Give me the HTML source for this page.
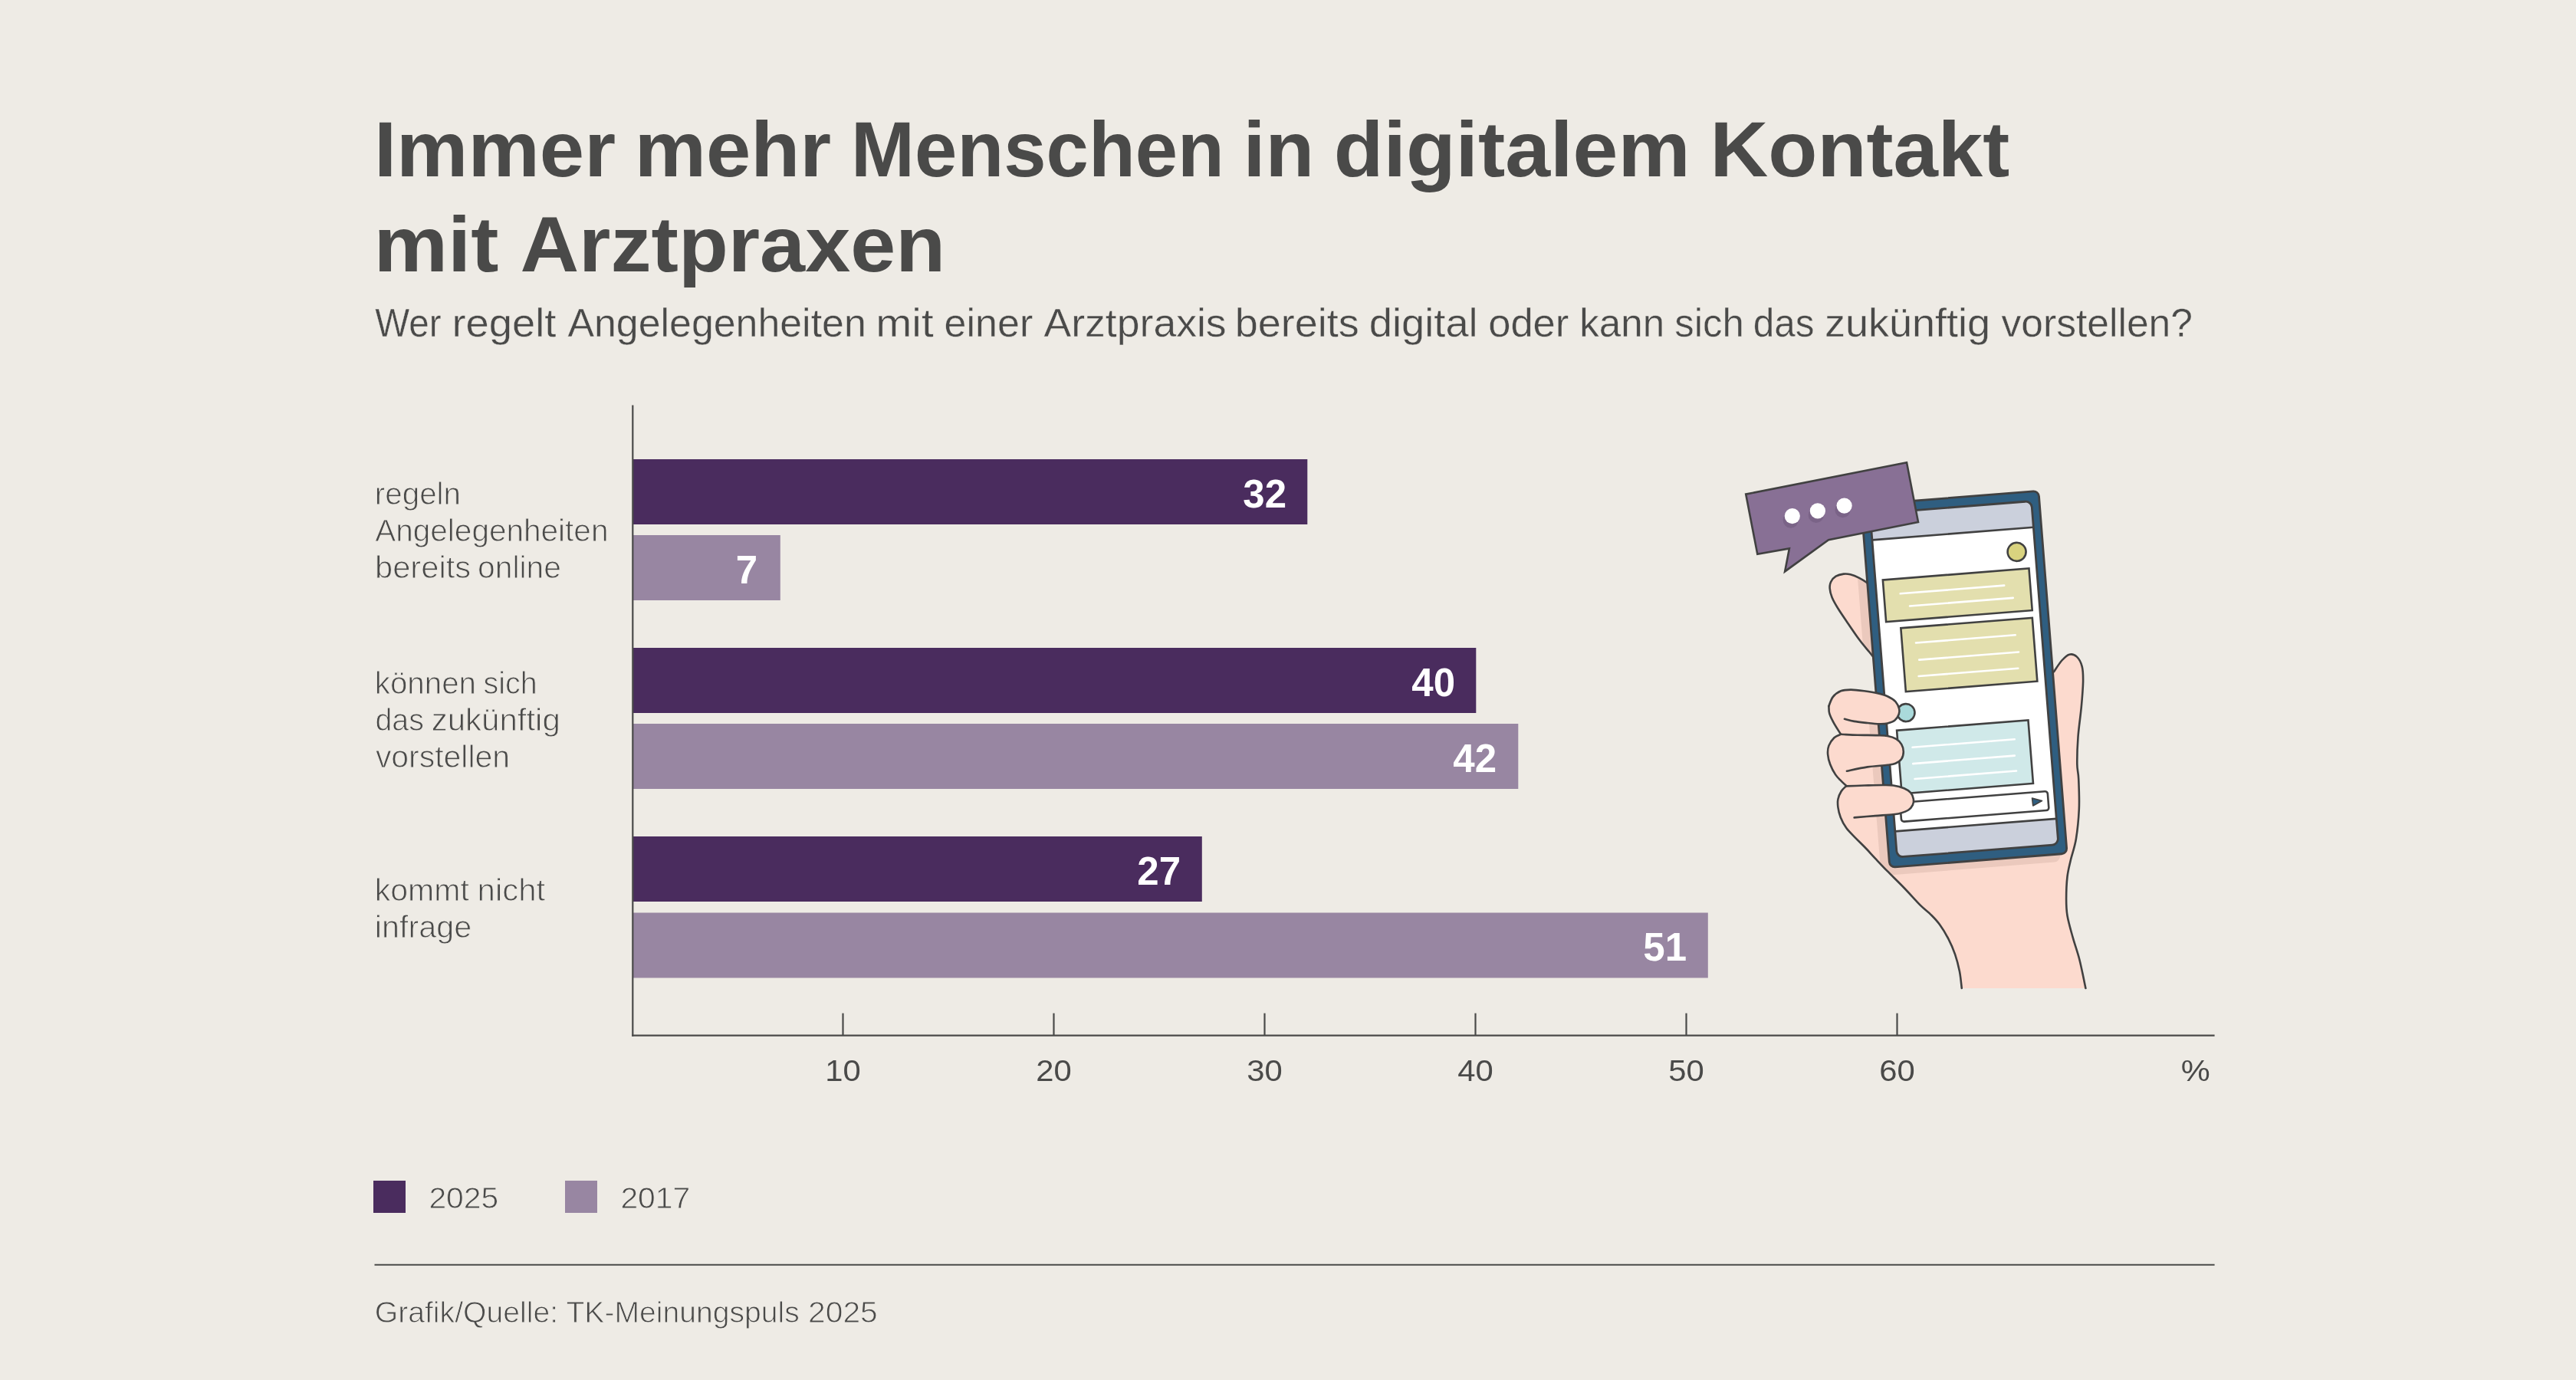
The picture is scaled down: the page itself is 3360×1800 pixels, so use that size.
<!DOCTYPE html>
<html lang="de">
<head>
<meta charset="utf-8">
<title>Immer mehr Menschen in digitalem Kontakt mit Arztpraxen</title>
<style>
html,body{margin:0;padding:0;background:#EEEBE5;}
body{width:3360px;height:1800px;overflow:hidden;}
svg{display:block;will-change:transform;}
text{font-family:"Liberation Sans",Arial,sans-serif;fill:#4A4A49;}
.t{font-weight:700;font-size:102px;}
.sub{font-size:52px;stroke:#EEEBE5;stroke-width:0.4px;}
.lab{font-size:40px;stroke:#EEEBE5;stroke-width:0.9px;}
.val{font-weight:700;font-size:51px;fill:#fff;text-anchor:end;}
.tick{font-size:38px;text-anchor:middle;}
.leg{font-size:39.5px;stroke:#EEEBE5;stroke-width:0.8px;}
.foot{font-size:39px;stroke:#EEEBE5;stroke-width:0.9px;}
.ol{fill:none;stroke:#414141;stroke-width:2.6;stroke-linecap:round;stroke-linejoin:round;}
</style>
</head>
<body>
<svg width="3360" height="1800" viewBox="0 0 3360 1800">
<rect width="3360" height="1800" fill="#EEEBE5"/>

<!-- Title -->
<text class="t" y="229.6"><tspan x="487.90" textLength="315.16" lengthAdjust="spacingAndGlyphs">Immer</tspan> <tspan x="827.70" textLength="256.42" lengthAdjust="spacingAndGlyphs">mehr</tspan> <tspan x="1110.10" textLength="486.80" lengthAdjust="spacingAndGlyphs">Menschen</tspan> <tspan x="1621.60" textLength="92.66" lengthAdjust="spacingAndGlyphs">in</tspan> <tspan x="1739.80" textLength="464.75" lengthAdjust="spacingAndGlyphs">digitalem</tspan> <tspan x="2230.50" textLength="390.67" lengthAdjust="spacingAndGlyphs">Kontakt</tspan></text>
<text class="t" y="353.7"><tspan x="487.40" textLength="163.00" lengthAdjust="spacingAndGlyphs">mit</tspan> <tspan x="678.40" textLength="554.81" lengthAdjust="spacingAndGlyphs">Arztpraxen</tspan></text>
<text class="sub" y="439.0"><tspan x="489.30" textLength="86.39" lengthAdjust="spacingAndGlyphs">Wer</tspan> <tspan x="589.40" textLength="136.08" lengthAdjust="spacingAndGlyphs">regelt</tspan> <tspan x="740.40" textLength="389.36" lengthAdjust="spacingAndGlyphs">Angelegenheiten</tspan> <tspan x="1142.30" textLength="75.33" lengthAdjust="spacingAndGlyphs">mit</tspan> <tspan x="1231.60" textLength="115.64" lengthAdjust="spacingAndGlyphs">einer</tspan> <tspan x="1361.50" textLength="238.16" lengthAdjust="spacingAndGlyphs">Arztpraxis</tspan> <tspan x="1610.70" textLength="162.08" lengthAdjust="spacingAndGlyphs">bereits</tspan> <tspan x="1785.80" textLength="141.88" lengthAdjust="spacingAndGlyphs">digital</tspan> <tspan x="1941.20" textLength="105.08" lengthAdjust="spacingAndGlyphs">oder</tspan> <tspan x="2060.30" textLength="110.77" lengthAdjust="spacingAndGlyphs">kann</tspan> <tspan x="2184.30" textLength="90.48" lengthAdjust="spacingAndGlyphs">sich</tspan> <tspan x="2286.80" textLength="79.84" lengthAdjust="spacingAndGlyphs">das</tspan> <tspan x="2379.90" textLength="216.14" lengthAdjust="spacingAndGlyphs">zukünftig</tspan> <tspan x="2610.50" textLength="249.47" lengthAdjust="spacingAndGlyphs">vorstellen?</tspan></text>
<!-- Category labels -->
<text class="lab" y="657.9"><tspan x="488.80" textLength="112.20" lengthAdjust="spacingAndGlyphs">regeln</tspan></text>
<text class="lab" y="705.7"><tspan x="489.20" textLength="304.28" lengthAdjust="spacingAndGlyphs">Angelegenheiten</tspan></text>
<text class="lab" y="753.8"><tspan x="489.00" textLength="125.06" lengthAdjust="spacingAndGlyphs">bereits</tspan> <tspan x="623.10" textLength="108.77" lengthAdjust="spacingAndGlyphs">online</tspan></text>
<text class="lab" y="905.0"><tspan x="488.80" textLength="132.23" lengthAdjust="spacingAndGlyphs">können</tspan> <tspan x="630.50" textLength="70.14" lengthAdjust="spacingAndGlyphs">sich</tspan></text>
<text class="lab" y="953.0"><tspan x="489.40" textLength="63.50" lengthAdjust="spacingAndGlyphs">das</tspan> <tspan x="562.70" textLength="168.11" lengthAdjust="spacingAndGlyphs">zukünftig</tspan></text>
<text class="lab" y="1001.0"><tspan x="489.90" textLength="175.20" lengthAdjust="spacingAndGlyphs">vorstellen</tspan></text>
<text class="lab" y="1175.0"><tspan x="488.80" textLength="123.00" lengthAdjust="spacingAndGlyphs">kommt</tspan> <tspan x="622.60" textLength="88.50" lengthAdjust="spacingAndGlyphs">nicht</tspan></text>
<text class="lab" y="1223.2"><tspan x="488.80" textLength="126.31" lengthAdjust="spacingAndGlyphs">infrage</tspan></text>
<!-- Bars -->
<g>
<rect x="826" y="599" width="879.3" height="85" fill="#4A2C5E"/>
<rect x="826" y="698" width="191.8" height="85" fill="#9886A2"/>
<rect x="826" y="845" width="1099.3" height="85" fill="#4A2C5E"/>
<rect x="826" y="944" width="1154.3" height="85" fill="#9886A2"/>
<rect x="826" y="1091" width="741.8" height="85" fill="#4A2C5E"/>
<rect x="826" y="1190.5" width="1401.8" height="85" fill="#9886A2"/>
</g>
<text class="val" x="1678" y="661.6">32</text>
<text class="val" x="988" y="760.5">7</text>
<text class="val" x="1898" y="907.5">40</text>
<text class="val" x="1952" y="1006.5">42</text>
<text class="val" x="1540" y="1153.5">27</text>
<text class="val" x="2200" y="1253">51</text>

<!-- Axes -->
<g stroke="#4A4A49" stroke-width="2.2" fill="none">
<line x1="825.3" y1="528.6" x2="825.3" y2="1351.8"/>
<line x1="824.2" y1="1350.7" x2="2888.6" y2="1350.7"/>
<line x1="1099.5" y1="1321.6" x2="1099.5" y2="1350"/>
<line x1="1374.5" y1="1321.6" x2="1374.5" y2="1350"/>
<line x1="1649.5" y1="1321.6" x2="1649.5" y2="1350"/>
<line x1="1924.5" y1="1321.6" x2="1924.5" y2="1350"/>
<line x1="2199.5" y1="1321.6" x2="2199.5" y2="1350"/>
<line x1="2474.5" y1="1321.6" x2="2474.5" y2="1350"/>
</g>
<text class="tick" x="1099.5" y="1410.4" textLength="46.5" lengthAdjust="spacingAndGlyphs">10</text>
<text class="tick" x="1374.5" y="1410.4" textLength="46.5" lengthAdjust="spacingAndGlyphs">20</text>
<text class="tick" x="1649.5" y="1410.4" textLength="46.5" lengthAdjust="spacingAndGlyphs">30</text>
<text class="tick" x="1924.5" y="1410.4" textLength="46.5" lengthAdjust="spacingAndGlyphs">40</text>
<text class="tick" x="2199.5" y="1410.4" textLength="46.5" lengthAdjust="spacingAndGlyphs">50</text>
<text class="tick" x="2474.5" y="1410.4" textLength="46.5" lengthAdjust="spacingAndGlyphs">60</text>
<text class="tick" x="2863.8" y="1410.2" textLength="38" lengthAdjust="spacingAndGlyphs">%</text>

<!-- ILLUSTRATION -->
<g id="illu">
<defs>
<clipPath id="handclip"><path d="M2437.5 761.5 C2435.4 760.2 2429.1 755.9 2425.1 753.9 C2421.1 751.9 2416.9 750.2 2413.5 749.3 C2410.1 748.4 2408.0 748.2 2404.8 748.6 C2401.7 749.0 2397.4 750.0 2394.6 751.7 C2391.8 753.4 2389.4 756.3 2388.1 759.0 C2386.8 761.7 2386.4 764.3 2386.7 767.7 C2386.9 771.1 2387.8 774.9 2389.6 779.3 C2391.4 783.6 2394.2 788.5 2397.5 793.8 C2400.8 799.1 2404.5 804.5 2409.1 811.2 C2413.7 818.0 2420.3 827.8 2425.1 834.3 C2429.9 840.8 2435.0 846.5 2438.1 850.3 C2441.2 854.1 2442.6 855.9 2443.5 857.0 L2490.0 860.0 L2490.0 905.0 L2447.0 906.0 L2405.0 903.5 C2403.2 904.2 2396.9 906.1 2394.0 908.0 C2391.1 909.9 2388.9 912.8 2387.5 915.0 C2386.1 917.2 2385.6 918.4 2385.4 921.0 C2385.2 923.6 2385.1 927.1 2386.3 930.9 C2387.5 934.7 2389.9 939.4 2392.4 943.9 C2394.9 948.4 2399.7 955.5 2401.1 957.8 C2399.7 958.5 2395.0 959.7 2392.4 962.2 C2389.8 964.7 2386.8 969.0 2385.4 972.6 C2384.0 976.2 2383.8 979.8 2384.1 983.9 C2384.4 988.0 2385.5 992.6 2387.2 997.0 C2388.9 1001.4 2391.7 1006.8 2394.1 1010.4 C2396.5 1014.0 2399.3 1016.4 2401.7 1018.8 C2404.1 1021.2 2407.2 1024.0 2408.3 1025.0 C2407.2 1026.2 2403.5 1029.1 2401.7 1032.0 C2399.9 1034.9 2398.1 1038.9 2397.4 1042.4 C2396.7 1045.9 2396.9 1048.9 2397.4 1052.8 C2397.9 1056.7 2398.9 1061.4 2400.7 1065.9 C2402.5 1070.5 2405.2 1075.7 2408.3 1080.1 C2411.5 1084.5 2415.5 1088.1 2419.6 1092.3 C2423.7 1096.5 2428.4 1101.0 2432.8 1105.5 C2437.2 1110.0 2441.1 1114.5 2445.9 1119.6 C2450.7 1124.7 2455.4 1129.8 2461.7 1136.2 C2468.0 1142.6 2476.2 1150.5 2483.5 1158.0 C2490.8 1165.5 2499.4 1175.4 2505.2 1181.2 C2511.0 1187.0 2514.2 1188.7 2518.3 1192.8 C2522.4 1196.9 2526.1 1200.5 2529.9 1205.8 C2533.8 1211.1 2538.0 1218.1 2541.4 1224.6 C2544.8 1231.1 2547.7 1237.9 2550.1 1244.9 C2552.5 1251.9 2554.4 1259.4 2555.9 1266.7 C2557.4 1274.0 2558.3 1285.3 2558.8 1289.0 L2720.4 1289.0 C2719.1 1282.9 2715.3 1263.2 2712.5 1252.2 C2709.7 1241.2 2706.5 1232.9 2703.8 1223.2 C2701.1 1213.5 2697.9 1202.7 2696.5 1194.2 C2695.1 1185.8 2695.1 1181.0 2695.1 1172.5 C2695.1 1164.0 2695.5 1152.0 2696.5 1143.5 C2697.5 1135.0 2699.0 1129.9 2700.9 1121.7 C2702.8 1113.5 2706.1 1105.4 2707.9 1094.3 C2709.7 1083.2 2711.2 1068.2 2711.8 1055.2 C2712.4 1042.2 2711.6 1025.8 2711.2 1016.0 C2710.8 1006.2 2709.4 1005.6 2709.3 996.5 C2709.2 987.4 2709.6 973.7 2710.5 961.3 C2711.4 948.9 2713.7 934.3 2714.8 922.2 C2715.9 910.1 2716.9 897.7 2717.1 888.9 C2717.2 880.1 2717.1 874.7 2715.7 869.3 C2714.3 863.9 2711.7 859.2 2708.9 856.6 C2706.1 854.0 2702.4 852.9 2699.1 853.7 C2695.8 854.5 2692.7 857.8 2689.3 861.5 C2686.0 865.2 2680.7 873.8 2679.0 876.2 L2650.0 870.0 L2480.0 770.0 Z"/></clipPath>
</defs>
<path d="M2437.5 761.5 C2435.4 760.2 2429.1 755.9 2425.1 753.9 C2421.1 751.9 2416.9 750.2 2413.5 749.3 C2410.1 748.4 2408.0 748.2 2404.8 748.6 C2401.7 749.0 2397.4 750.0 2394.6 751.7 C2391.8 753.4 2389.4 756.3 2388.1 759.0 C2386.8 761.7 2386.4 764.3 2386.7 767.7 C2386.9 771.1 2387.8 774.9 2389.6 779.3 C2391.4 783.6 2394.2 788.5 2397.5 793.8 C2400.8 799.1 2404.5 804.5 2409.1 811.2 C2413.7 818.0 2420.3 827.8 2425.1 834.3 C2429.9 840.8 2435.0 846.5 2438.1 850.3 C2441.2 854.1 2442.6 855.9 2443.5 857.0 L2490.0 860.0 L2490.0 905.0 L2447.0 906.0 L2405.0 903.5 C2403.2 904.2 2396.9 906.1 2394.0 908.0 C2391.1 909.9 2388.9 912.8 2387.5 915.0 C2386.1 917.2 2385.6 918.4 2385.4 921.0 C2385.2 923.6 2385.1 927.1 2386.3 930.9 C2387.5 934.7 2389.9 939.4 2392.4 943.9 C2394.9 948.4 2399.7 955.5 2401.1 957.8 C2399.7 958.5 2395.0 959.7 2392.4 962.2 C2389.8 964.7 2386.8 969.0 2385.4 972.6 C2384.0 976.2 2383.8 979.8 2384.1 983.9 C2384.4 988.0 2385.5 992.6 2387.2 997.0 C2388.9 1001.4 2391.7 1006.8 2394.1 1010.4 C2396.5 1014.0 2399.3 1016.4 2401.7 1018.8 C2404.1 1021.2 2407.2 1024.0 2408.3 1025.0 C2407.2 1026.2 2403.5 1029.1 2401.7 1032.0 C2399.9 1034.9 2398.1 1038.9 2397.4 1042.4 C2396.7 1045.9 2396.9 1048.9 2397.4 1052.8 C2397.9 1056.7 2398.9 1061.4 2400.7 1065.9 C2402.5 1070.5 2405.2 1075.7 2408.3 1080.1 C2411.5 1084.5 2415.5 1088.1 2419.6 1092.3 C2423.7 1096.5 2428.4 1101.0 2432.8 1105.5 C2437.2 1110.0 2441.1 1114.5 2445.9 1119.6 C2450.7 1124.7 2455.4 1129.8 2461.7 1136.2 C2468.0 1142.6 2476.2 1150.5 2483.5 1158.0 C2490.8 1165.5 2499.4 1175.4 2505.2 1181.2 C2511.0 1187.0 2514.2 1188.7 2518.3 1192.8 C2522.4 1196.9 2526.1 1200.5 2529.9 1205.8 C2533.8 1211.1 2538.0 1218.1 2541.4 1224.6 C2544.8 1231.1 2547.7 1237.9 2550.1 1244.9 C2552.5 1251.9 2554.4 1259.4 2555.9 1266.7 C2557.4 1274.0 2558.3 1285.3 2558.8 1289.0 L2720.4 1289.0 C2719.1 1282.9 2715.3 1263.2 2712.5 1252.2 C2709.7 1241.2 2706.5 1232.9 2703.8 1223.2 C2701.1 1213.5 2697.9 1202.7 2696.5 1194.2 C2695.1 1185.8 2695.1 1181.0 2695.1 1172.5 C2695.1 1164.0 2695.5 1152.0 2696.5 1143.5 C2697.5 1135.0 2699.0 1129.9 2700.9 1121.7 C2702.8 1113.5 2706.1 1105.4 2707.9 1094.3 C2709.7 1083.2 2711.2 1068.2 2711.8 1055.2 C2712.4 1042.2 2711.6 1025.8 2711.2 1016.0 C2710.8 1006.2 2709.4 1005.6 2709.3 996.5 C2709.2 987.4 2709.6 973.7 2710.5 961.3 C2711.4 948.9 2713.7 934.3 2714.8 922.2 C2715.9 910.1 2716.9 897.7 2717.1 888.9 C2717.2 880.1 2717.1 874.7 2715.7 869.3 C2714.3 863.9 2711.7 859.2 2708.9 856.6 C2706.1 854.0 2702.4 852.9 2699.1 853.7 C2695.8 854.5 2692.7 857.8 2689.3 861.5 C2686.0 865.2 2680.7 873.8 2679.0 876.2 L2650.0 870.0 L2480.0 770.0 Z" fill="#FCDACE"/>
<g clip-path="url(#handclip)"><g transform="translate(-10 9.5)"><rect transform="translate(2563.5 886.9) rotate(-4.5)" x="-118.9" y="-239.7" width="234.8" height="477.1" rx="8" fill="#EBC9BD"/></g></g>
<path class="ol" d="M2437.5 761.5 C2435.4 760.2 2429.1 755.9 2425.1 753.9 C2421.1 751.9 2416.9 750.2 2413.5 749.3 C2410.1 748.4 2408.0 748.2 2404.8 748.6 C2401.7 749.0 2397.4 750.0 2394.6 751.7 C2391.8 753.4 2389.4 756.3 2388.1 759.0 C2386.8 761.7 2386.4 764.3 2386.7 767.7 C2386.9 771.1 2387.8 774.9 2389.6 779.3 C2391.4 783.6 2394.2 788.5 2397.5 793.8 C2400.8 799.1 2404.5 804.5 2409.1 811.2 C2413.7 818.0 2420.3 827.8 2425.1 834.3 C2429.9 840.8 2435.0 846.5 2438.1 850.3 C2441.2 854.1 2442.6 855.9 2443.5 857.0"/>
<path class="ol" d="M2679.0 876.2 C2680.7 873.8 2686.0 865.2 2689.3 861.5 C2692.7 857.8 2695.8 854.5 2699.1 853.7 C2702.4 852.9 2706.1 854.0 2708.9 856.6 C2711.7 859.2 2714.3 863.9 2715.7 869.3 C2717.1 874.7 2717.2 880.1 2717.1 888.9 C2716.9 897.7 2715.9 910.1 2714.8 922.2 C2713.7 934.3 2711.4 948.9 2710.5 961.3 C2709.6 973.7 2709.2 987.4 2709.3 996.5 C2709.4 1005.6 2710.8 1006.2 2711.2 1016.0 C2711.6 1025.8 2712.4 1042.2 2711.8 1055.2 C2711.2 1068.2 2709.7 1083.2 2707.9 1094.3 C2706.1 1105.4 2702.8 1113.5 2700.9 1121.7 C2699.0 1129.9 2697.5 1135.0 2696.5 1143.5 C2695.5 1152.0 2695.1 1164.0 2695.1 1172.5 C2695.1 1181.0 2695.1 1185.8 2696.5 1194.2 C2697.9 1202.7 2701.1 1213.5 2703.8 1223.2 C2706.5 1232.9 2709.7 1241.2 2712.5 1252.2 C2715.3 1263.2 2719.1 1282.9 2720.4 1289.0"/>
<g transform="translate(2563.5 886.9) rotate(-4.5)">
<rect x="-117.5" y="-238.3" width="232" height="474.3" rx="7" fill="#2F5E80" stroke="#414141" stroke-width="2.8"/>
<rect x="-106.9" y="-225.8" width="211.1" height="449.3" rx="8" fill="#CBD0DC"/>
<rect x="-106.9" y="-191.5" width="211.1" height="381.2" fill="#fff"/>
<g stroke="#414141" stroke-width="2.6" fill="none">
<line x1="-106.9" y1="-191.5" x2="104.2" y2="-191.5"/>
<line x1="-106.9" y1="189.7" x2="104.2" y2="189.7"/>
</g>
<rect x="-106.9" y="-225.8" width="211.1" height="449.3" rx="8" fill="none" stroke="#414141" stroke-width="2.8"/>
<circle cx="80" cy="-161.3" r="12" fill="#D9D37F" stroke="#414141" stroke-width="2.6"/>
<rect x="-97.1" y="-138.5" width="191.2" height="54.8" fill="#E3DFAE" stroke="#414141" stroke-width="2.6"/>
<rect x="-78.6" y="-74" width="172" height="83.1" fill="#E3DFAE" stroke="#414141" stroke-width="2.6"/>
<rect x="-94.3" y="58.7" width="171.9" height="82.8" fill="#D0E9E9" stroke="#414141" stroke-width="2.6"/>
<g stroke="#fff" stroke-width="2.6" stroke-linecap="round">
<line x1="-75.7" y1="-118.9" x2="60.2" y2="-118.9"/>
<line x1="-64.7" y1="-101.8" x2="70.5" y2="-101.8"/>
<line x1="-60.5" y1="-53.3" x2="69.6" y2="-53.3"/>
<line x1="-58" y1="-30.9" x2="72.2" y2="-30.9"/>
<line x1="-60.3" y1="-9.7" x2="69.8" y2="-9.7"/>
<line x1="-75.6" y1="82.2" x2="58" y2="82.2"/>
<line x1="-76.6" y1="103.5" x2="56.4" y2="103.5"/>
<line x1="-75.9" y1="123.5" x2="57" y2="123.5"/>
</g>
<circle cx="-80.6" cy="36.5" r="11.5" fill="#AADADB" stroke="#414141" stroke-width="2.6"/>
<rect x="-97.6" y="153" width="193" height="24.9" rx="3.5" fill="#fff" stroke="#414141" stroke-width="2.6"/>
<path d="M74.7 160.6 L87.3 165 L75.1 170.5 Z" fill="#2F5E80" stroke="#414141" stroke-width="1.6" stroke-linejoin="round"/>
</g>
<path d="M2385.4 921.0 C2386.3 919.0 2388.1 912.4 2390.7 909.1 C2393.3 905.8 2397.2 902.9 2401.1 901.3 C2405.0 899.7 2409.0 899.6 2414.1 899.6 C2419.2 899.6 2425.7 900.5 2431.5 901.3 C2437.3 902.1 2443.8 903.1 2448.9 904.3 C2454.0 905.5 2458.1 906.5 2462.0 908.3 C2465.9 910.1 2469.9 912.5 2472.4 915.2 C2474.9 918.0 2476.5 922.0 2477.2 924.8 C2477.9 927.5 2477.6 929.2 2476.7 931.7 C2475.8 934.2 2473.9 937.6 2471.5 939.6 C2469.1 941.6 2465.3 942.7 2462.0 943.5 C2458.7 944.3 2455.8 944.4 2451.5 944.3 C2447.2 944.2 2441.4 943.6 2435.9 943.0 C2430.4 942.4 2423.5 941.8 2418.5 940.9 C2413.5 940.0 2408.0 938.3 2405.9 937.8 L2392.4 943.9 L2386.3 930.9 Z" fill="#FCDACE"/>
<path d="M2401.1 957.8 C2404.7 957.9 2414.8 958.5 2422.8 958.7 C2430.8 958.9 2442.4 958.9 2448.9 959.1 C2455.4 959.3 2457.9 959.2 2462.0 960.0 C2466.1 960.8 2470.3 962.1 2473.3 963.9 C2476.3 965.7 2478.6 968.1 2480.2 970.9 C2481.8 973.6 2482.8 977.2 2482.8 980.4 C2482.8 983.6 2481.9 987.5 2480.2 990.0 C2478.5 992.5 2475.4 994.4 2472.4 995.7 C2469.4 997.0 2468.1 997.0 2462.0 997.8 C2455.9 998.6 2444.8 999.1 2435.9 1000.4 C2427.1 1001.7 2413.4 1004.8 2408.9 1005.7 L2387.2 997.0 C2386.7 994.8 2384.4 988.0 2384.1 983.9 C2383.8 979.8 2384.0 976.2 2385.4 972.6 C2386.8 969.0 2389.8 964.7 2392.4 962.2 C2395.0 959.7 2399.7 958.5 2401.1 957.8 Z" fill="#FCDACE"/>
<path d="M2408.3 1025.4 C2412.2 1025.2 2424.0 1024.7 2431.8 1024.5 C2439.7 1024.3 2449.1 1024.0 2455.4 1024.0 C2461.7 1024.0 2464.8 1023.8 2469.5 1024.5 C2474.2 1025.2 2479.8 1026.7 2483.6 1028.3 C2487.4 1029.9 2490.0 1031.6 2492.1 1033.9 C2494.2 1036.2 2495.4 1039.7 2495.9 1042.4 C2496.4 1045.1 2496.0 1047.6 2494.9 1049.9 C2493.8 1052.2 2492.0 1054.7 2489.3 1056.5 C2486.6 1058.3 2482.2 1059.8 2478.9 1060.8 C2475.6 1061.8 2475.0 1061.7 2469.5 1062.2 C2464.0 1062.8 2454.4 1063.4 2445.9 1064.1 C2437.4 1064.8 2423.2 1066.0 2418.6 1066.4 L2400.7 1065.9 L2397.4 1052.8 L2397.4 1042.4 L2401.7 1032.0 Z" fill="#FCDACE"/>
<path class="ol" d="M2385.4 921.0 C2385.6 922.6 2385.1 927.1 2386.3 930.9 C2387.5 934.7 2389.9 939.4 2392.4 943.9 C2394.9 948.4 2399.7 955.5 2401.1 957.8 C2399.7 958.5 2395.0 959.7 2392.4 962.2 C2389.8 964.7 2386.8 969.0 2385.4 972.6 C2384.0 976.2 2383.8 979.8 2384.1 983.9 C2384.4 988.0 2385.5 992.6 2387.2 997.0 C2388.9 1001.4 2391.7 1006.8 2394.1 1010.4 C2396.5 1014.0 2399.3 1016.4 2401.7 1018.8 C2404.1 1021.2 2407.2 1024.0 2408.3 1025.0 C2407.2 1026.2 2403.5 1029.1 2401.7 1032.0 C2399.9 1034.9 2398.1 1038.9 2397.4 1042.4 C2396.7 1045.9 2396.9 1048.9 2397.4 1052.8 C2397.9 1056.7 2398.9 1061.4 2400.7 1065.9 C2402.5 1070.5 2405.2 1075.7 2408.3 1080.1 C2411.5 1084.5 2415.5 1088.1 2419.6 1092.3 C2423.7 1096.5 2428.4 1101.0 2432.8 1105.5 C2437.2 1110.0 2441.1 1114.5 2445.9 1119.6 C2450.7 1124.7 2455.4 1129.8 2461.7 1136.2 C2468.0 1142.6 2476.2 1150.5 2483.5 1158.0 C2490.8 1165.5 2499.4 1175.4 2505.2 1181.2 C2511.0 1187.0 2514.2 1188.7 2518.3 1192.8 C2522.4 1196.9 2526.1 1200.5 2529.9 1205.8 C2533.8 1211.1 2538.0 1218.1 2541.4 1224.6 C2544.8 1231.1 2547.7 1237.9 2550.1 1244.9 C2552.5 1251.9 2554.4 1259.4 2555.9 1266.7 C2557.4 1274.0 2558.3 1285.3 2558.8 1289.0"/>
<path class="ol" d="M2385.4 921.0 C2386.3 919.0 2388.1 912.4 2390.7 909.1 C2393.3 905.8 2397.2 902.9 2401.1 901.3 C2405.0 899.7 2409.0 899.6 2414.1 899.6 C2419.2 899.6 2425.7 900.5 2431.5 901.3 C2437.3 902.1 2443.8 903.1 2448.9 904.3 C2454.0 905.5 2458.1 906.5 2462.0 908.3 C2465.9 910.1 2469.9 912.5 2472.4 915.2 C2474.9 918.0 2476.5 922.0 2477.2 924.8 C2477.9 927.5 2477.6 929.2 2476.7 931.7 C2475.8 934.2 2473.9 937.6 2471.5 939.6 C2469.1 941.6 2465.3 942.7 2462.0 943.5 C2458.7 944.3 2455.8 944.4 2451.5 944.3 C2447.2 944.2 2441.4 943.6 2435.9 943.0 C2430.4 942.4 2423.5 941.8 2418.5 940.9 C2413.5 940.0 2408.0 938.3 2405.9 937.8"/>
<path class="ol" d="M2401.1 957.8 C2404.7 957.9 2414.8 958.5 2422.8 958.7 C2430.8 958.9 2442.4 958.9 2448.9 959.1 C2455.4 959.3 2457.9 959.2 2462.0 960.0 C2466.1 960.8 2470.3 962.1 2473.3 963.9 C2476.3 965.7 2478.6 968.1 2480.2 970.9 C2481.8 973.6 2482.8 977.2 2482.8 980.4 C2482.8 983.6 2481.9 987.5 2480.2 990.0 C2478.5 992.5 2475.4 994.4 2472.4 995.7 C2469.4 997.0 2468.1 997.0 2462.0 997.8 C2455.9 998.6 2444.8 999.1 2435.9 1000.4 C2427.1 1001.7 2413.4 1004.8 2408.9 1005.7"/>
<path class="ol" d="M2408.3 1025.4 C2412.2 1025.2 2424.0 1024.7 2431.8 1024.5 C2439.7 1024.3 2449.1 1024.0 2455.4 1024.0 C2461.7 1024.0 2464.8 1023.8 2469.5 1024.5 C2474.2 1025.2 2479.8 1026.7 2483.6 1028.3 C2487.4 1029.9 2490.0 1031.6 2492.1 1033.9 C2494.2 1036.2 2495.4 1039.7 2495.9 1042.4 C2496.4 1045.1 2496.0 1047.6 2494.9 1049.9 C2493.8 1052.2 2492.0 1054.7 2489.3 1056.5 C2486.6 1058.3 2482.2 1059.8 2478.9 1060.8 C2475.6 1061.8 2475.0 1061.7 2469.5 1062.2 C2464.0 1062.8 2454.4 1063.4 2445.9 1064.1 C2437.4 1064.8 2423.2 1066.0 2418.6 1066.4"/>
<path d="M2277.2 644.6 L2487 603.3 L2502 680.9 L2385 704.3 L2328.1 745.4 L2333.9 715.4 L2292.3 722.8 Z" fill="#887095" stroke="#414141" stroke-width="2.6" stroke-linejoin="miter" stroke-miterlimit="3"/>
<g fill="#7A6387">
<circle cx="2335.7" cy="678.6" r="10.1"/>
<circle cx="2368.8" cy="671.9" r="10.1"/>
<circle cx="2403.5" cy="665.1" r="10.1"/>
</g>
<g fill="#fff">
<circle cx="2337.8" cy="673.1" r="10.1"/>
<circle cx="2370.9" cy="666.4" r="10.1"/>
<circle cx="2405.6" cy="659.6" r="10.1"/>
</g>
</g>

<!-- Legend -->
<rect x="487" y="1540" width="42" height="42" fill="#4A2C5E"/>
<text class="leg" y="1576.3"><tspan x="559.40" textLength="90.88" lengthAdjust="spacingAndGlyphs">2025</tspan></text>
<rect x="737" y="1540" width="42" height="42" fill="#9886A2"/>
<text class="leg" y="1576.3"><tspan x="809.40" textLength="90.88" lengthAdjust="spacingAndGlyphs">2017</tspan></text>

<!-- Footer -->
<line x1="488.5" y1="1649.8" x2="2888.6" y2="1649.8" stroke="#4A4A49" stroke-width="2"/>
<text class="foot" y="1725.2"><tspan x="488.70" textLength="239.42" lengthAdjust="spacingAndGlyphs">Grafik/Quelle:</tspan> <tspan x="738.40" textLength="304.47" lengthAdjust="spacingAndGlyphs">TK-Meinungspuls</tspan> <tspan x="1054.00" textLength="90.77" lengthAdjust="spacingAndGlyphs">2025</tspan></text>
</svg>
</body>
</html>
